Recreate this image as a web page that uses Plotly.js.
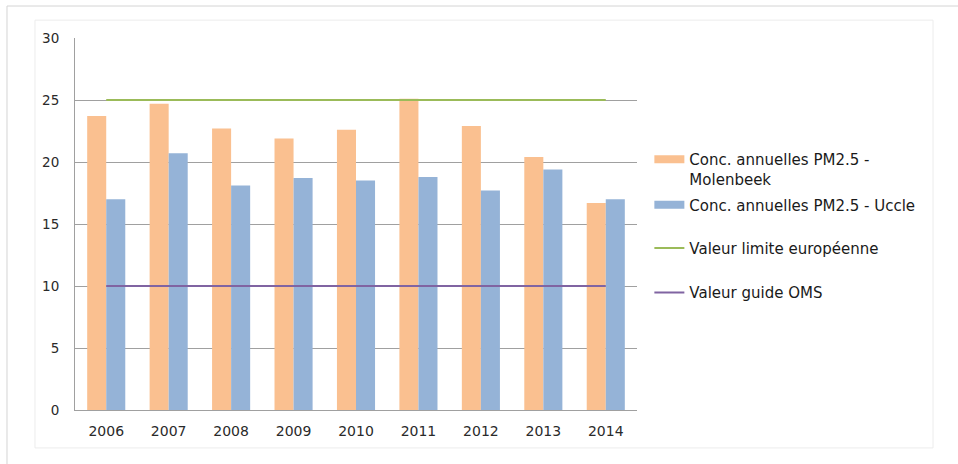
<!DOCTYPE html>
<html><head><meta charset="utf-8">
<script src="https://cdn.plot.ly/plotly-3.0.1.min.js"></script>
<style>html,body{margin:0;padding:0;background:#fff}#c{width:958px;height:464px}</style>
</head><body><div id="c"></div>
<script>
const years = ['2006','2007','2008','2009','2010','2011','2012','2013','2014'];
const molenbeek = [23.7, 24.7, 22.7, 21.9, 22.6, 25.1, 22.9, 20.4, 16.7];
const uccle = [17.0, 20.7, 18.1, 18.7, 18.5, 18.8, 17.7, 19.4, 17.0];
const limiteEU = [25, 25, 25, 25, 25, 25, 25, 25, 25];
const guideOMS = [10, 10, 10, 10, 10, 10, 10, 10, 10];
const names = ['Conc. annuelles PM2.5 -<br>Molenbeek', 'Conc. annuelles PM2.5 - Uccle', 'Valeur limite européenne', 'Valeur guide OMS'];
const colors = ['#FAC090', '#95B3D7', '#9BBB59', '#8064A2'];

const traces = [
  {type:'bar', x:years, y:molenbeek, name:names[0], marker:{color:colors[0]}, showlegend:false},
  {type:'bar', x:years, y:uccle, name:names[1], marker:{color:colors[1]}, showlegend:false},
  {type:'scatter', mode:'lines', x:years, y:limiteEU, name:names[2], line:{color:colors[2], width:2}, legend:'legend3'},
  {type:'scatter', mode:'lines', x:years, y:guideOMS, name:names[3], line:{color:colors[3], width:2}, legend:'legend4'},
  // legend swatches for the bar series (wide rectangles like the reference)
  {type:'scatter', mode:'lines', x:[null], y:[null], name:names[0], line:{color:colors[0], width:8}, legend:'legend', hoverinfo:'skip'},
  {type:'scatter', mode:'lines', x:[null], y:[null], name:names[1], line:{color:colors[1], width:8}, legend:'legend2', hoverinfo:'skip'}
];
const lf = {family:'DejaVu Sans', size:15, color:'#1a1a1a'};
function leg(y){ return {x:1.022, y:y, xanchor:'left', yanchor:'middle', font:lf, valign:'top', itemwidth:30, bgcolor:'rgba(0,0,0,0)'}; }
const layout = {
  width:958, height:464,
  margin:{l:75, r:321, t:38, b:54},
  paper_bgcolor:'#fff', plot_bgcolor:'#fff',
  barmode:'group', bargap:0.39, bargroupgap:0,
  showlegend:true,
  legend:leg(0.648), legend2:leg(0.551), legend3:leg(0.435), legend4:leg(0.315),
  xaxis:{type:'category', showline:true, linecolor:'#a0a0a0', linewidth:1, ticks:'', ticklabelstandoff:8, tickfont:{family:'DejaVu Sans', size:14, color:'#2a2a2a'}, showgrid:false},
  yaxis:{range:[0,30], dtick:5, showline:true, linecolor:'#a0a0a0', gridcolor:'#a0a0a0', gridwidth:1, ticks:'', ticklabelstandoff:12, tickfont:{family:'DejaVu Sans', size:13.5, color:'#2a2a2a'}, zeroline:false},
  shapes:[
    {type:'rect', xref:'paper', yref:'paper', x0:-0.121, x1:1.7, y0:-0.3, y1:1.086, line:{color:'#d4d4d4', width:1}, layer:'below'},
    {type:'rect', xref:'paper', yref:'paper', x0:-0.0712, x1:1.5267, y0:-0.102, y1:1.048, line:{color:'#ececec', width:1}, layer:'below'}
  ]
};
Plotly.newPlot('c', traces, layout, {displayModeBar:false});
</script></body></html>
